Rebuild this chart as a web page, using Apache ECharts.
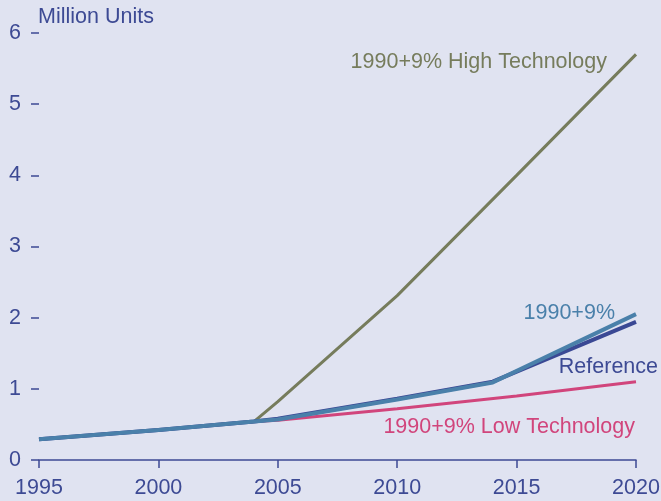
<!DOCTYPE html>
<html>
<head>
<meta charset="utf-8">
<script src="https://cdn.jsdelivr.net/npm/echarts@6/dist/echarts.min.js"></script>
<style>
  html, body { margin: 0; padding: 0; background: #e0e3f1; }
  #chart { width: 661px; height: 501px; }
</style>
</head>
<body>
<div id="chart"></div>
<script>
// x axis ticks
const xTicks = [1995, 2000, 2005, 2010, 2015, 2020]

// 1990+9% High Technology
const highYears = [1995, 2000, 2004, 2005, 2010, 2015, 2020]
const highValues = [0.29, 0.42, 0.54, 0.82, 2.31, 4.00, 5.70]

// 1990+9% Low Technology
const lowYears = [1995, 2000, 2004, 2005, 2010, 2015, 2020]
const lowValues = [0.29, 0.42, 0.54, 0.56, 0.72, 0.90, 1.10]

// Reference
const refYears = [1995, 2000, 2004, 2005, 2010, 2014, 2020]
const refValues = [0.29, 0.42, 0.54, 0.58, 0.86, 1.10, 1.94]

// 1990+9%
const midYears = [1995, 2000, 2004, 2005, 2010, 2014, 2020]
const midValues = [0.29, 0.42, 0.54, 0.57, 0.85, 1.09, 2.05]

const textColor = '#3d4a94'
const font = 'Liberation Sans, Arial, sans-serif'
const fs = 21.5

function pairs(xs, ys) {
  return xs.map((x, i) => [x, ys[i]])
}

const chart = echarts.init(document.getElementById('chart'))

chart.setOption({
  backgroundColor: '#e0e3f1',
  animation: false,
  grid: {
    left: 39,
    right: 25,
    top: 33,
    bottom: 41,
    containLabel: false,
    outerBoundsMode: 'none'
  },
  xAxis: {
    type: 'value',
    min: xTicks[0],
    max: xTicks[xTicks.length - 1],
    interval: 5,
    axisLine: { show: true, lineStyle: { color: textColor, width: 1.5 } },
    axisTick: { show: true, length: 8, lineStyle: { color: textColor, width: 1.5 } },
    axisLabel: {
      color: textColor, fontSize: fs, fontFamily: font, margin: 17,
      formatter: v => String(v)
    },
    splitLine: { show: false }
  },
  yAxis: {
    type: 'value',
    min: 0,
    max: 6,
    interval: 1,
    axisLine: { show: false },
    axisTick: { show: true, length: 8, lineStyle: { color: textColor, width: 1.5 } },
    axisLabel: {
      color: textColor, fontSize: fs, fontFamily: font, margin: 18,
      padding: [3, 0, 0, 0]
    },
    splitLine: { show: false }
  },
  graphic: [
    { type: 'text', left: 38, top: 6,
      style: { text: 'Million Units', fill: textColor, font: fs + 'px ' + font } },
    { type: 'text', x: 607, y: 62,
      style: { text: '1990+9% High Technology', fill: '#767c5c', font: fs + 'px ' + font,
        textAlign: 'right', textVerticalAlign: 'middle' } },
    { type: 'text', x: 615, y: 313,
      style: { text: '1990+9%', fill: '#4a80aa', font: fs + 'px ' + font,
        textAlign: 'right', textVerticalAlign: 'middle' } },
    { type: 'text', x: 658, y: 367,
      style: { text: 'Reference', fill: textColor, font: fs + 'px ' + font,
        textAlign: 'right', textVerticalAlign: 'middle' } },
    { type: 'text', x: 635, y: 427,
      style: { text: '1990+9% Low Technology', fill: '#d1457c', font: fs + 'px ' + font,
        textAlign: 'right', textVerticalAlign: 'middle' } }
  ],
  series: [
    {
      name: '1990+9% Low Technology',
      type: 'line',
      data: pairs(lowYears, lowValues),
      showSymbol: false,
      lineStyle: { color: '#d1457c', width: 3 }
    },
    {
      name: '1990+9% High Technology',
      type: 'line',
      data: pairs(highYears, highValues),
      showSymbol: false,
      lineStyle: { color: '#767c5c', width: 3 }
    },
    {
      name: 'Reference',
      type: 'line',
      data: pairs(refYears, refValues),
      showSymbol: false,
      lineStyle: { color: '#3a4894', width: 4 }
    },
    {
      name: '1990+9%',
      type: 'line',
      data: pairs(midYears, midValues),
      showSymbol: false,
      lineStyle: { color: '#4a80aa', width: 4 }
    }
  ]
})
</script>
</body>
</html>
